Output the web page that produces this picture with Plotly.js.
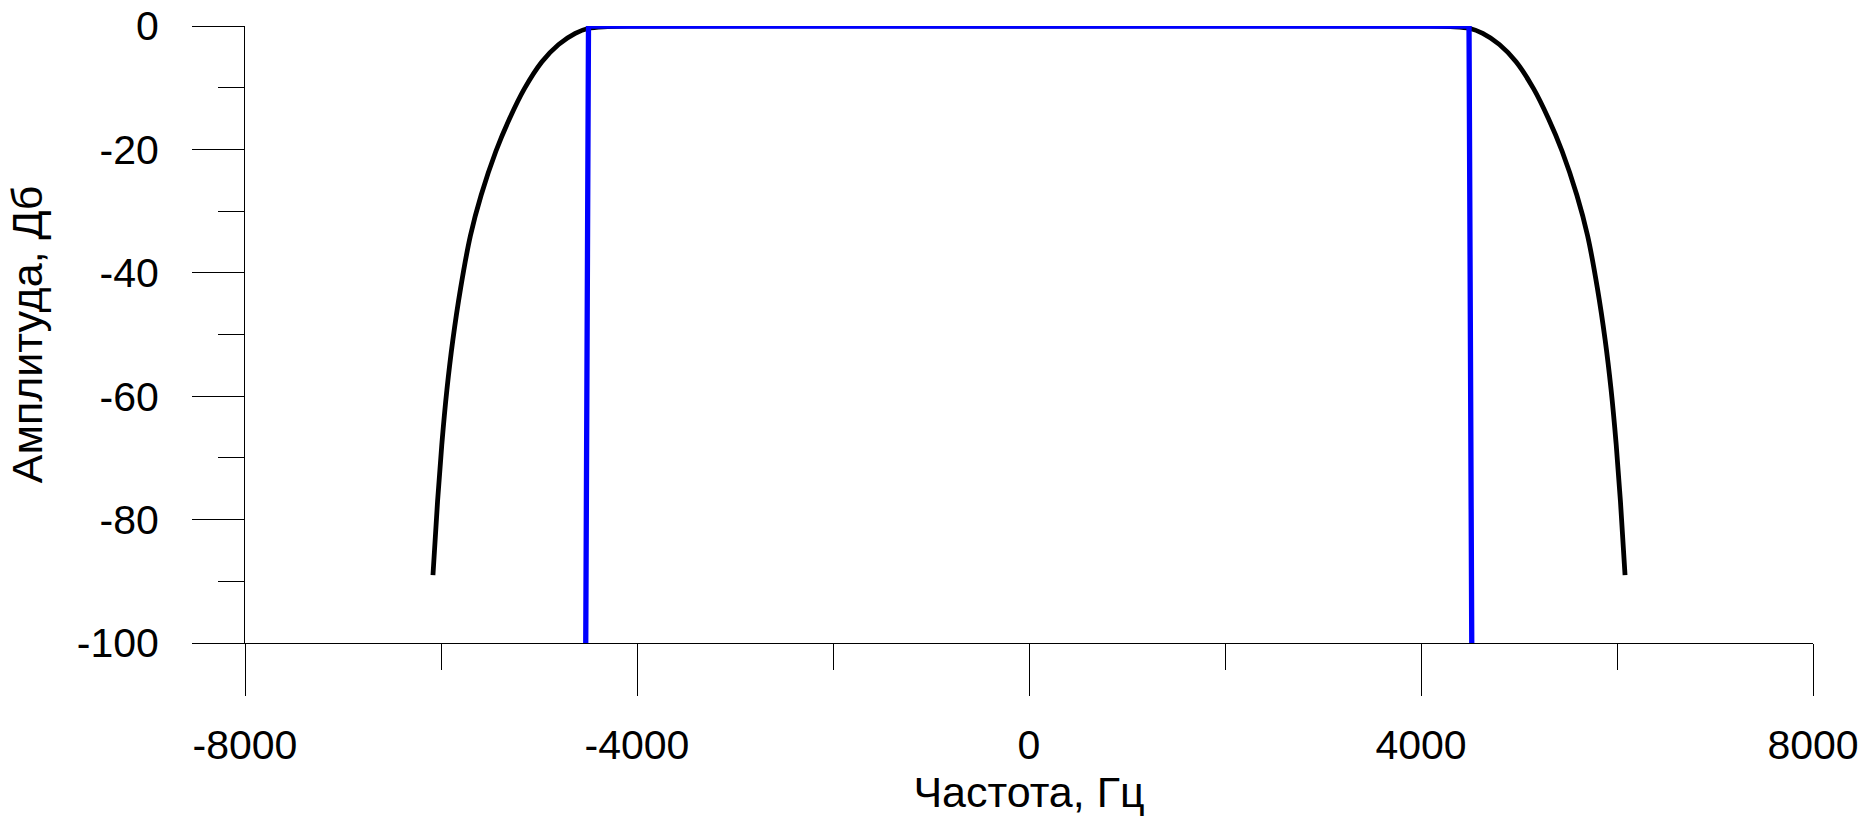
<!DOCTYPE html>
<html>
<head>
<meta charset="utf-8">
<script src="https://cdn.plot.ly/plotly-3.0.1.min.js"></script>
<style>
  html, body { margin: 0; padding: 0; background: #fff; }
  #chart { width: 1869px; height: 816px; }
</style>
</head>
<body>
<div id="chart"></div>
<script>
// Black curve: real filter response (frequency, Hz / amplitude, dB)
const blackFreq = [-6082, -6035, -5990, -5940, -5880, -5800, -5700, -5590, -5440, -5300, -5150, -4970, -4800, -4630, -4500, -4300, -4000, 0, 4000, 4300, 4500, 4630, 4800, 4970, 5150, 5300, 5440, 5590, 5700, 5800, 5880, 5940, 5990, 6035, 6082];
const blackDb   = [-89.0, -77.0, -67.5, -59.0, -51.0, -42.5, -34.0, -27.4, -20.3, -15.0, -10.2, -5.8, -3.0, -1.2, -0.4, -0.1, 0, 0, 0, -0.1, -0.4, -1.2, -3.0, -5.8, -10.2, -15.0, -20.3, -27.4, -34.0, -42.5, -51.0, -59.0, -67.5, -77.0, -89.0];

// Blue curve: ideal (rectangular) response
const blueFreq = [-4523, -4495, 4490, 4518];
const blueDb   = [-100, 0, 0, -100];

// Axis ticks
const xTickVals = [-8000, -4000, 0, 4000, 8000];
const xTickText = ['-8000', '-4000', '0', '4000', '8000'];
const xMinorVals = [-6000, -2000, 2000, 6000];
const yTickVals = [0, -20, -40, -60, -80, -100];
const yTickText = ['0', '-20', '-40', '-60', '-80', '-100'];
const yMinorVals = [-10, -30, -50, -70, -90];

const xTitle = 'Частота, Гц';
const yTitle = 'Амплитуда, Дб';

const FONT = '"Liberation Sans", Arial, sans-serif';

const traces = [
  {
    x: blackFreq, y: blackDb, type: 'scatter', mode: 'lines',
    line: { color: '#000000', width: 4.8, shape: 'spline', smoothing: 1 },
    hoverinfo: 'skip', showlegend: false
  },
  {
    x: blueFreq, y: blueDb, type: 'scatter', mode: 'lines',
    line: { color: '#0000ff', width: 5.3 },
    hoverinfo: 'skip', showlegend: false
  }
];

const layout = {
  width: 1869, height: 816,
  margin: { l: 245, r: 56, t: 26, b: 173, pad: 0 },
  paper_bgcolor: '#ffffff', plot_bgcolor: '#ffffff',
  font: { family: FONT, color: '#000000', size: 41 },
  showlegend: false,
  xaxis: {
    range: [-8000, 8000], autorange: false,
    showgrid: false, zeroline: false,
    showline: true, linecolor: '#000000', linewidth: 1,
    ticks: 'outside', ticklen: 52, tickwidth: 1, tickcolor: '#000000',
    tickmode: 'array', tickvals: xTickVals, ticktext: xTickText,
    tickfont: { family: FONT, size: 41, color: '#000000' },
    ticklabelstandoff: 14,
    minor: { tickmode: 'array', tickvals: xMinorVals, ticks: 'outside', ticklen: 26, tickwidth: 1, tickcolor: '#000000', showgrid: false },
    title: { text: xTitle, font: { family: FONT, size: 43, color: '#000000' }, standoff: 18 },
    automargin: false
  },
  yaxis: {
    range: [-100, 0], autorange: false,
    showgrid: false, zeroline: false,
    showline: true, linecolor: '#000000', linewidth: 1,
    ticks: 'outside', ticklen: 52, tickwidth: 1, tickcolor: '#000000',
    tickmode: 'array', tickvals: yTickVals, ticktext: yTickText,
    tickfont: { family: FONT, size: 41, color: '#000000' },
    ticklabelstandoff: 25,
    minor: { tickmode: 'array', tickvals: yMinorVals, ticks: 'outside', ticklen: 26, tickwidth: 1, tickcolor: '#000000', showgrid: false },
    title: { text: yTitle, font: { family: FONT, size: 43, color: '#000000' }, standoff: 20 },
    automargin: false
  }
};

Plotly.newPlot('chart', traces, layout, { displayModeBar: false, staticPlot: true });
</script>
</body>
</html>
